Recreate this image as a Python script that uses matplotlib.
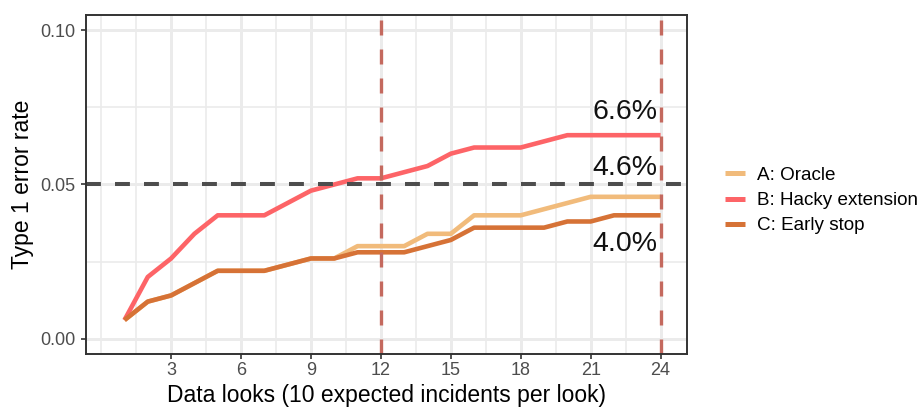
import matplotlib
matplotlib.use("Agg")
import matplotlib.pyplot as plt
from matplotlib.lines import Line2D
import numpy as np

plt.rcParams["font.family"] = ["Liberation Sans", "DejaVu Sans"]

# Type 1 error rate at each data look, per method
looks = list(range(1, 25))
oracle = [0.006, 0.012, 0.014, 0.018, 0.022, 0.022, 0.022, 0.024, 0.026, 0.026,
          0.030, 0.030, 0.030, 0.034, 0.034, 0.040, 0.040, 0.040, 0.042, 0.044,
          0.046, 0.046, 0.046, 0.046]
hacky = [0.006, 0.020, 0.026, 0.034, 0.040, 0.040, 0.040, 0.044, 0.048, 0.050,
         0.052, 0.052, 0.054, 0.056, 0.060, 0.062, 0.062, 0.062, 0.064, 0.066,
         0.066, 0.066, 0.066, 0.066]
early_stop = [0.006, 0.012, 0.014, 0.018, 0.022, 0.022, 0.022, 0.024, 0.026, 0.026,
              0.028, 0.028, 0.028, 0.030, 0.032, 0.036, 0.036, 0.036, 0.036, 0.038,
              0.038, 0.040, 0.040, 0.040]

series_names = ["A: Oracle", "B: Hacky extension", "C: Early stop"]
series_colors = ["#F1BB7B", "#FD6467", "#D67236"]

alpha_level = 0.05
analysis_looks = [12, 24]

x_ticks = [3, 6, 9, 12, 15, 18, 21, 24]
y_ticks = [0.00, 0.05, 0.10]

W, H = 919, 407
fig = plt.figure(figsize=(W / 100, H / 100), dpi=100)
left, right, top, bottom = 86, 686.7, 15, 354
ax = fig.add_axes([left / W, 1 - bottom / H, (right - left) / W, (bottom - top) / H])

ax.set_xlim(-0.65, 25.12)
ax.set_ylim(-0.005, 0.105)

# grid: majors and minors as in theme_bw
grid_col = "#EBEBEB"
x_minor = np.arange(0, 25.5, 1.5)
for xv in x_minor:
    lw = 2.1 if xv in x_ticks else 1.2
    ax.axvline(xv, color=grid_col, lw=lw, zorder=0)
for yv in [0.025, 0.075]:
    ax.axhline(yv, color=grid_col, lw=1.2, zorder=0)
for yv in y_ticks:
    ax.axhline(yv, color=grid_col, lw=2.1, zorder=0)

values = [oracle, hacky, early_stop]
for name, col, vals in zip(series_names, series_colors, values):
    ax.plot(looks, vals, color=col, lw=3.3, solid_capstyle="butt",
            solid_joinstyle="round", zorder=3, label=name)

ax.axhline(alpha_level, color="#4D4D4D", lw=2.9, dashes=(3.7, 3.5), zorder=4)
for xv in analysis_looks:
    ax.axvline(xv, color="#C4695E", lw=2.4, dashes=(4.5, 4.2), zorder=4)

# final rate labels at the last look
last = looks[-1]
offsets = {"A: Oracle": 20.5, "B: Hacky extension": 17, "C: Early stop": -21}
for name, vals in zip(series_names, values):
    v = vals[-1]
    ax.annotate(f"{v * 100:.1f}%", xy=(last, v), xytext=(-2.5, offsets[name]),
                textcoords="offset points", ha="right", va="center",
                fontsize=20.5, color="#111111", zorder=5)

ax.set_xticks(x_ticks)
ax.set_xticklabels([str(t) for t in x_ticks])
ax.set_yticks(y_ticks)
ax.set_yticklabels([f"{t:.2f}" for t in y_ticks])
ax.tick_params(axis="both", direction="out", length=3.8, width=1.2,
               color="#333333", labelcolor="#4D4D4D", labelsize=13)
ax.tick_params(axis="x", pad=2.2)
ax.tick_params(axis="y", pad=4.0)

for sp in ax.spines.values():
    sp.set_color("#333333")
    sp.set_linewidth(1.4)
    sp.set_zorder(6)

ax.set_xlabel("Data looks (10 expected incidents per look)", fontsize=16.5,
              color="black", labelpad=3.5)
ax.set_ylabel("Type 1 error rate", fontsize=16.5, color="black", labelpad=4)

leg_handles = [Line2D([0], [0], color=c, lw=3.6, solid_capstyle="butt")
               for c in series_colors]
fig.legend(leg_handles, series_names, loc="center left",
           bbox_to_anchor=(725 / W, 1 - 200.5 / H), frameon=False,
           fontsize=13.6, handlelength=1.05, handletextpad=0.65,
           labelspacing=0.42, borderaxespad=0, borderpad=0)

fig.savefig("out.png", dpi=100)
